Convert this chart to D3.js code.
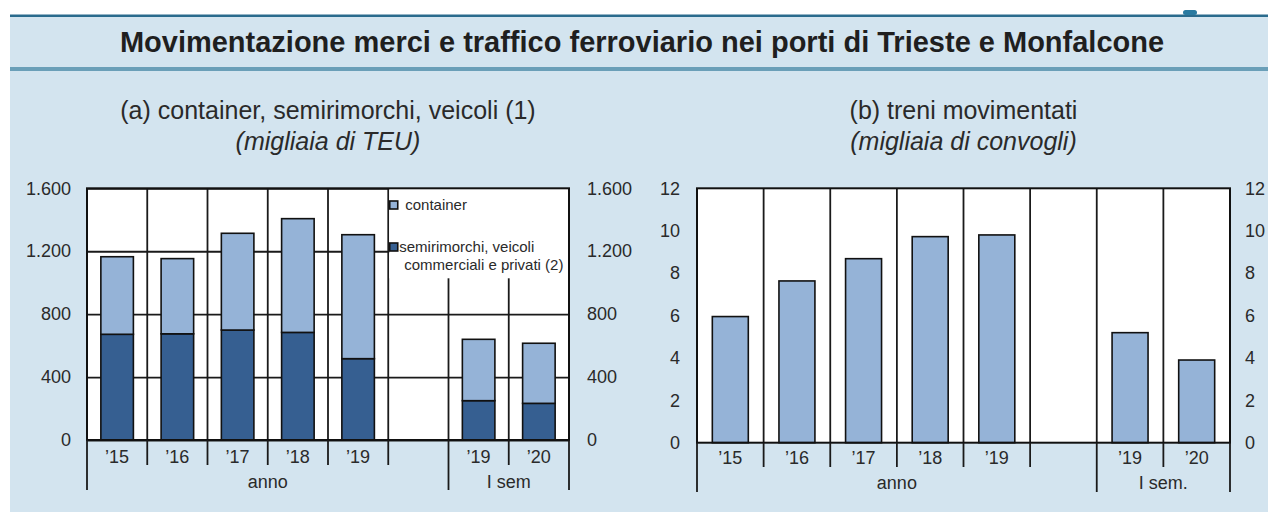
<!DOCTYPE html>
<html>
<head>
<meta charset="utf-8">
<script src="https://cdn.jsdelivr.net/npm/d3@7"></script>
<style>
  html, body { margin: 0; padding: 0; background: #fff; }
  svg { display: block; font-family: "Liberation Sans", Arial, sans-serif; }
</style>
</head>
<body>
<div id="chart"></div>
<script>
// DATA
var categories = ["2015", "2016", "2017", "2018", "2019", "gap", "2019-I", "2020-I"];
var catLabels = ["’15", "’16", "’17", "’18", "’19", "", "’19", "’20"];
var semirimorchi = [672, 675, 699, 684, 517, null, 250, 233];
var container = [493, 478, 615, 723, 788, null, 390, 382];
var treni = [5.95, 7.63, 8.68, 9.72, 9.8, null, 5.19, 3.9];
var ticksA = [0, 400, 800, 1200, 1600];
var ticksB = [0, 2, 4, 6, 8, 10, 12];
var groupStart = [0, 6];
var groupEnd = [6, 8];
var groupLabelsA = ["anno", "I sem"];
var groupLabelsB = ["anno", "I sem."];

var W = 1268, H = 515;
var light = "#95b3d7", dark = "#365f91", bg = "#d3e4ef", ink = "#2a2a2a";
var it = d3.formatLocale({decimal: ",", thousands: ".", grouping: [3], currency: ["€", ""]});
var fmt = it.format(",");

var svg = d3.select("#chart").append("svg")
  .attr("width", W).attr("height", H);

// panel background + title band
svg.append("rect").attr("x", 10).attr("y", 15).attr("width", W - 10).attr("height", 497).attr("fill", bg);
svg.append("rect").attr("x", 10).attr("y", 14.5).attr("width", W - 10).attr("height", 2.5).attr("fill", "#2a6b8d");
svg.append("rect").attr("x", 10).attr("y", 67).attr("width", W - 10).attr("height", 4).attr("fill", "#6a9fb8");
svg.append("rect").attr("x", 1183).attr("y", 10).attr("width", 14).attr("height", 5).attr("rx", 2.5).attr("fill", "#2a7aa0");

svg.append("text")
  .attr("x", 642).attr("y", 52)
  .attr("text-anchor", "middle")
  .attr("font-size", 29).attr("font-weight", "bold")
  .attr("fill", "#1f1f1f")
  .text("Movimentazione merci e traffico ferroviario nei porti di Trieste e Monfalcone");

function drawPanel(opt) {
  var g = svg.append("g");
  var x = d3.scaleBand().domain(categories).range([opt.x0, opt.x1]).padding(0);
  var y = d3.scaleLinear().domain([0, opt.max]).range([opt.y0, opt.y1]);
  var bw = x.bandwidth() * 0.54;
  var cx = function(c) { return x(c) + x.bandwidth() / 2; };
  var cxText = (opt.x0 + opt.x1) / 2;

  // subtitles
  g.append("text").attr("x", cxText).attr("y", 119).attr("text-anchor", "middle")
    .attr("font-size", 25).attr("fill", ink).text(opt.title);
  g.append("text").attr("x", cxText).attr("y", 150).attr("text-anchor", "middle")
    .attr("font-size", 25).attr("font-style", "italic").attr("fill", ink).text(opt.unit);

  // plot background
  g.append("rect").attr("x", opt.x0).attr("y", opt.y1)
    .attr("width", opt.x1 - opt.x0).attr("height", opt.y0 - opt.y1).attr("fill", "#fff");

  // horizontal grid
  if (opt.grid) {
    g.append("g").attr("transform", "translate(" + opt.x0 + ",0)")
      .call(d3.axisRight(y).tickValues(opt.ticks).tickSize(opt.x1 - opt.x0).tickFormat(""))
      .call(function(s) { s.select(".domain").remove(); })
      .selectAll("line").attr("stroke", "#1a1a1a").attr("stroke-width", 1.8);
  }

  // vertical slot lines
  g.append("g").selectAll("line").data(categories.slice(1)).enter().append("line")
    .attr("x1", function(c) { return x(c); }).attr("x2", function(c) { return x(c); })
    .attr("y1", opt.y1).attr("y2", opt.y0)
    .attr("stroke", "#1a1a1a").attr("stroke-width", 1.8);

  // legend box covers the grid
  if (opt.legend) {
    var lx = x(categories[5]);
    g.append("rect").attr("x", lx + 1).attr("y", opt.y1)
      .attr("width", opt.x1 - lx - 1).attr("height", 90).attr("fill", "#fff");
  }

  // bars
  if (opt.stack) {
    var rows = categories.map(function(c, i) {
      return {cat: c, semirimorchi: semirimorchi[i] || 0, container: container[i] || 0};
    }).filter(function(d, i) { return semirimorchi[i] != null; });
    var series = d3.stack().keys(["semirimorchi", "container"])(rows);
    g.append("g").selectAll("g").data(series).enter().append("g")
      .attr("fill", function(s) { return s.key === "semirimorchi" ? dark : light; })
      .selectAll("rect").data(function(s) { return s; }).enter().append("rect")
      .attr("x", function(d) { return cx(d.data.cat) - bw / 2; })
      .attr("width", bw)
      .attr("y", function(d) { return y(d[1]); })
      .attr("height", function(d) { return y(d[0]) - y(d[1]); })
      .attr("stroke", "#111").attr("stroke-width", 1.6);
  } else {
    var vals = categories.map(function(c, i) { return {cat: c, v: treni[i]}; })
      .filter(function(d) { return d.v != null; });
    g.append("g").selectAll("rect").data(vals).enter().append("rect")
      .attr("x", function(d) { return cx(d.cat) - bw / 2; })
      .attr("width", bw)
      .attr("y", function(d) { return y(d.v); })
      .attr("height", function(d) { return y(0) - y(d.v); })
      .attr("fill", light)
      .attr("stroke", "#111").attr("stroke-width", 1.6);
  }

  // border
  g.append("rect").attr("x", opt.x0).attr("y", opt.y1)
    .attr("width", opt.x1 - opt.x0).attr("height", opt.y0 - opt.y1)
    .attr("fill", "none").attr("stroke", "#111").attr("stroke-width", 2);

  // y axes
  var yl = g.append("g").attr("transform", "translate(" + opt.x0 + ",0)")
    .call(d3.axisLeft(y).tickValues(opt.ticks).tickSize(0).tickPadding(opt.padL).tickFormat(fmt));
  var yr = g.append("g").attr("transform", "translate(" + opt.x1 + ",0)")
    .call(d3.axisRight(y).tickValues(opt.ticks).tickSize(0).tickPadding(opt.padR).tickFormat(fmt));
  [yl, yr].forEach(function(a) {
    a.select(".domain").remove();
    a.selectAll("text").attr("font-size", 18).attr("fill", ink)
      .attr("font-family", "Liberation Sans, Arial, sans-serif");
  });

  // x axis labels
  var xa = g.append("g").attr("transform", "translate(0," + opt.y0 + ")")
    .call(d3.axisBottom(x).tickSize(0).tickPadding(0).tickFormat(function(c, i) { return catLabels[i]; }));
  xa.select(".domain").remove();
  xa.selectAll("text").attr("font-size", 18).attr("fill", ink)
    .attr("font-family", "Liberation Sans, Arial, sans-serif")
    .attr("y", opt.labY - opt.y0).attr("dy", "0.35em");

  // x tick lines below axis
  var edges = categories.map(function(c) { return x(c); }).concat([opt.x1]);
  g.append("g").selectAll("line").data(edges).enter().append("line")
    .attr("x1", function(d) { return d; }).attr("x2", function(d) { return d; })
    .attr("y1", opt.y0)
    .attr("y2", function(d, i) {
      var isGroup = groupStart.indexOf(i) >= 0 || groupEnd.indexOf(i) >= 0;
      return isGroup ? opt.longY : opt.shortY;
    })
    .attr("stroke", "#1a1a1a").attr("stroke-width", 1.8);

  // group labels
  g.append("g").selectAll("text").data(opt.groups).enter().append("text")
    .attr("x", function(d, i) { return (edges[groupStart[i]] + edges[groupEnd[i]]) / 2; })
    .attr("y", opt.grpY).attr("dy", "0.35em")
    .attr("text-anchor", "middle").attr("font-size", 18).attr("fill", ink)
    .text(function(d) { return d; });

  // legend
  if (opt.legend) {
    var lx0 = x(categories[5]) + 1;
    var items = [
      {fill: light, y: 205, lines: ["container"], tx: 16},
      {fill: dark, y: 247, lines: ["semirimorchi, veicoli", "commerciali e privati (2)"], tx: 10}
    ];
    var li = g.append("g").selectAll("g").data(items).enter().append("g");
    li.append("rect")
      .attr("x", lx0 + 0.5).attr("y", function(d) { return d.y - 4; })
      .attr("width", 8).attr("height", 8)
      .attr("fill", function(d) { return d.fill; })
      .attr("stroke", "#111").attr("stroke-width", 1.6);
    li.each(function(d) {
      var t = d3.select(this);
      d.lines.forEach(function(l, k) {
        t.append("text")
          .attr("x", lx0 + d.tx + (k > 0 ? 5 : 0))
          .attr("y", d.y + k * 18).attr("dy", "0.35em")
          .attr("font-size", 15).attr("fill", ink).text(l);
      });
    });
  }
}

drawPanel({
  x0: 87, x1: 569, y0: 440, y1: 188.3, max: 1600, ticks: ticksA,
  grid: true, stack: true, legend: true,
  title: "(a) container, semirimorchi, veicoli (1)", unit: "(migliaia di TEU)",
  padL: 16, padR: 18, labY: 457, grpY: 482, shortY: 465, longY: 490, groups: groupLabelsA
});

drawPanel({
  x0: 697, x1: 1230, y0: 442.7, y1: 188.3, max: 12, ticks: ticksB,
  grid: false, stack: false, legend: false,
  title: "(b) treni movimentati", unit: "(migliaia di convogli)",
  padL: 17, padR: 15, labY: 458, grpY: 483, shortY: 467, longY: 492, groups: groupLabelsB
});
</script>
</body>
</html>
